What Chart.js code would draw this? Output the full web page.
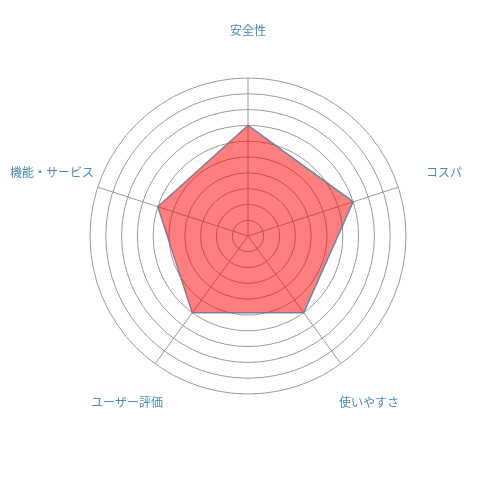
<!DOCTYPE html>
<html>
<head>
<meta charset="utf-8">
<script src="https://cdn.jsdelivr.net/npm/chart.js@4"></script>
<style>
    html, body { margin: 0; padding: 0; background: #fff; }
    #wrap { width: 500px; height: 500px; }
</style>
</head>
<body>
<div id="wrap"><canvas id="myChart"></canvas></div>
<script>
    // 評価項目と点数
    var labels = ['安全性', 'コスパ', '使いやすさ', 'ユーザー評価', '機能・サービス'];
    var scores = [7, 7, 6, 6, 6];
    var scoreMax = 10;

    // 項目名はグラフの外側の円周上に中央揃えで描く
    var labelPlugin = {
        id: 'centerLabels',
        afterDraw: function (chart) {
            var scale = chart.scales.r;
            var ctx = chart.ctx;
            ctx.save();
            ctx.font = '12px "Noto Sans CJK JP", "Noto Sans", sans-serif';
            ctx.fillStyle = '#4a8ab5';
            ctx.textAlign = 'center';
            ctx.textBaseline = 'middle';
            for (var i = 0; i < labels.length; i++) {
                var p = scale.getPointPosition(i, scale.drawingArea + 48);
                ctx.fillText(labels[i], p.x, p.y);
            }
            ctx.restore();
        }
    };

    var ctx = document.getElementById('myChart').getContext('2d');
    var myChart = new Chart(ctx, {
        type: 'radar',
        data: {
            labels: labels,
            datasets: [{
                data: scores,
                backgroundColor: 'rgba(255, 0, 0, 0.5)',
                borderColor: 'rgba(110, 120, 150, 0.9)',
                borderWidth: 1.5,
                pointRadius: 0,
                pointHoverRadius: 0
            }]
        },
        options: {
            responsive: true,
            maintainAspectRatio: false,
            animation: false,
            layout: {
                padding: { left: 90, right: 94, top: 78, bottom: 106 }
            },
            plugins: {
                legend: { display: false },
                tooltip: { enabled: false }
            },
            scales: {
                r: {
                    min: 0,
                    max: scoreMax,
                    ticks: { stepSize: 1, display: false },
                    grid: { circular: true, color: '#9a9a9a', lineWidth: 1 },
                    angleLines: { color: '#9a9a9a', lineWidth: 1 },
                    pointLabels: { display: false }
                }
            }
        },
        plugins: [labelPlugin]
    });
</script>
</body>
</html>
